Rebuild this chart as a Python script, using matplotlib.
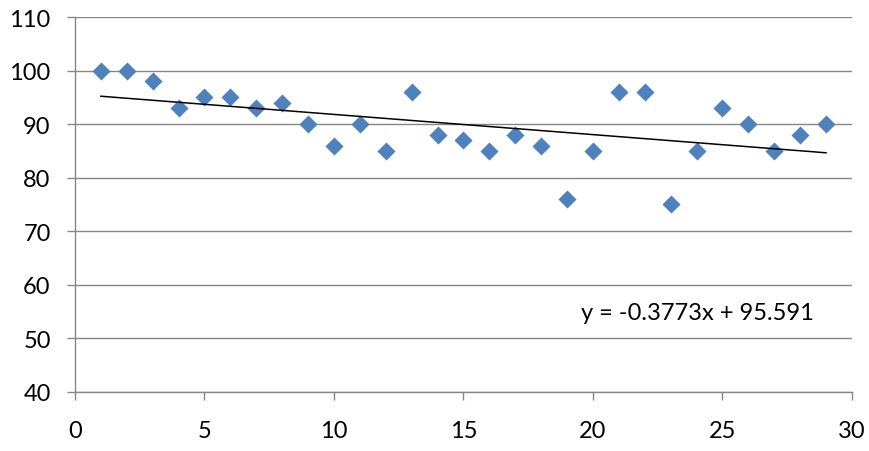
import matplotlib
matplotlib.use('Agg')
import matplotlib.pyplot as plt
import numpy as np

# data
x_vals = list(range(1, 30))
y_vals = [100, 100, 98, 93, 95, 95, 93, 94, 90, 86,
          90, 85, 96, 88, 87, 85, 88, 86, 76, 85,
          96, 96, 75, 85, 93, 90, 85, 88, 90]

# trendline as shown on the chart
slope = -0.3773
intercept = 95.591

x_ticks = [0, 5, 10, 15, 20, 25, 30]
y_ticks = [40, 50, 60, 70, 80, 90, 100, 110]

plt.rcParams['font.family'] = ['Lato', 'DejaVu Sans']

fig = plt.figure(figsize=(8.69, 4.52), dpi=100)
ax = fig.add_axes([0.0863, 0.131, 0.894, 0.829])

grid_color = '#868686'

ax.scatter(x_vals, y_vals, marker='D', s=9.2 ** 2, color='#4F81BD',
           linewidths=0, zorder=3)

trend_x = np.array([x_vals[0], x_vals[-1]])
ax.plot(trend_x, slope * trend_x + intercept, color='black', linewidth=1.1, zorder=4)

ax.text(19.55, 54.9, f'y = {slope}x + {intercept}', fontsize=17,
        va='center', ha='left')

ax.set_xlim(0, 30)
ax.set_ylim(40, 110)
ax.set_xticks(x_ticks)
ax.set_yticks(y_ticks)

ax.yaxis.grid(True, color=grid_color, linewidth=1.0)
ax.set_axisbelow(True)

for side in ['top', 'right']:
    ax.spines[side].set_visible(False)
for side in ['left', 'bottom']:
    ax.spines[side].set_color(grid_color)
    ax.spines[side].set_linewidth(1.0)

ax.tick_params(axis='both', colors=grid_color, length=5.5, width=1.0,
               labelsize=17, labelcolor='black')
ax.tick_params(axis='x', pad=15)
ax.tick_params(axis='y', pad=12)

plt.savefig('out.png', dpi=100)
plt.close()
